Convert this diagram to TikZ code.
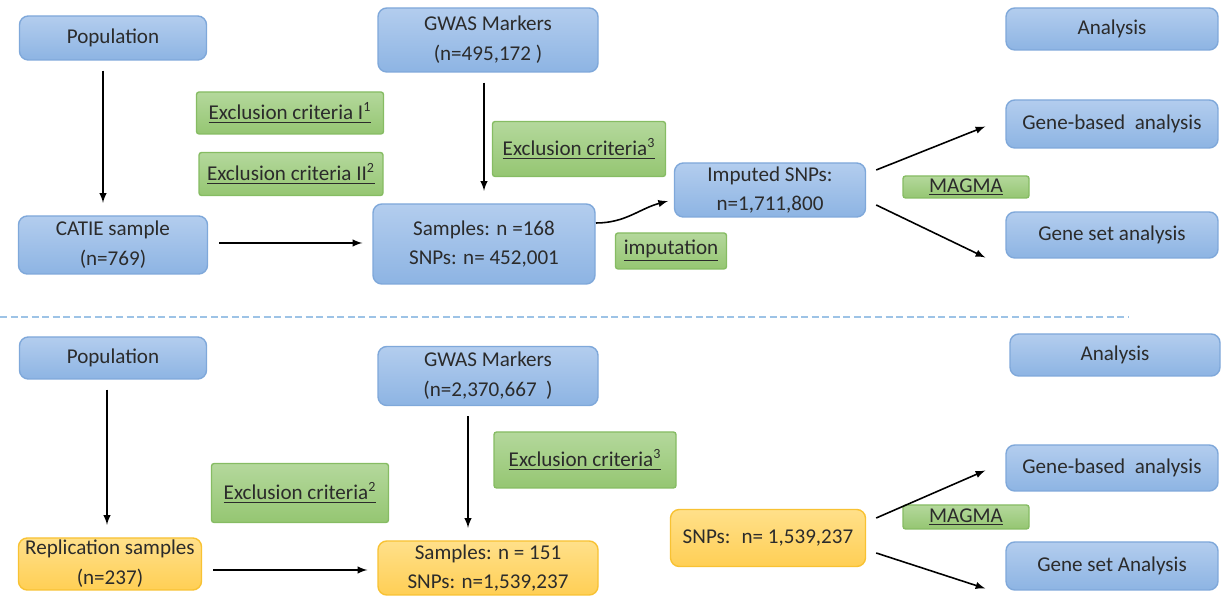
\documentclass[tikz,border=0pt]{standalone}
\usepackage{fontspec}
\setmainfont{Carlito}
\definecolor{textgray}{HTML}{2B2B2B}
\definecolor{bluetop}{HTML}{B3CDEE}
\definecolor{bluebot}{HTML}{8DB4E3}
\definecolor{blueline}{HTML}{7FA8DA}
\definecolor{greentop}{HTML}{B4D89C}
\definecolor{greenbot}{HTML}{95C672}
\definecolor{greenline}{HTML}{86BC63}
\definecolor{orangetop}{HTML}{FFE08A}
\definecolor{orangebot}{HTML}{FFCF55}
\definecolor{orangeline}{HTML}{F8C233}
\definecolor{dashblue}{HTML}{9DC3E6}
\begin{document}
\begin{tikzpicture}[x=0.02cm,y=-0.02cm,>=latex,
    every node/.style={font=\fontsize{12}{17}\selectfont,text=textgray,align=center,inner sep=0pt},
    sz/.style 2 args={minimum width=#1*0.02cm,minimum height=#2*0.02cm},
    bluebox/.style={draw=blueline,line width=0.8pt,rounded corners=5pt,top color=bluetop,bottom color=bluebot},
    greenbox/.style={draw=greenline,line width=0.8pt,rounded corners=1.5pt,top color=greentop,bottom color=greenbot},
    orangebox/.style={draw=orangeline,line width=0.8pt,rounded corners=5pt,top color=orangetop,bottom color=orangebot},
    arr/.style={->,line width=0.9pt,black}]
  \useasboundingbox (0,0) rectangle (1228,597);
  \node[bluebox,sz={187}{44}](P1) at (113,38) {Population};
  \node[bluebox,sz={220}{64}](G1) at (488,40) {GWAS Markers\\(n=495,172 )};
  \node[bluebox,sz={212}{42}](A1) at (1112,29) {Analysis};
  \node[greenbox,sz={187}{42}](E1) at (290,113) {\underline{Exclusion criteria I\textsuperscript{1}}};
  \node[greenbox,sz={184}{43}](E2) at (291,174) {\underline{Exclusion criteria II\textsuperscript{2}}};
  \node[greenbox,sz={173}{55}](E3) at (579,149) {\underline{Exclusion criteria\textsuperscript{3}}};
  \node[bluebox,sz={189}{58}](C1) at (113,245) {CATIE sample\\(n=769)};
  \node[bluebox,sz={222}{80}](S1) at (484,244) {Samples: n =168\\SNPs: n= 452,001};
  \node[greenbox,sz={111}{36}](I1) at (671,251) {\underline{imputation}};
  \node[bluebox,sz={191}{54}](M1) at (770,190) {Imputed SNPs:\\n=1,711,800};
  \node[greenbox,sz={126}{22}](MG1) at (966,187) {\underline{MAGMA}};
  \node[bluebox,sz={212}{48}](GB1) at (1112,124) {Gene-based~ analysis};
  \node[bluebox,sz={212}{46}](GS1) at (1112,235) {Gene set analysis};
  \coordinate(T1) at (596,223);
  \coordinate(T2) at (668,201);
  \coordinate(D1) at (0,317);
  \coordinate(D2) at (1128,317);
  \draw[dashblue,line width=1.6pt,dash pattern=on 4pt off 2pt](D1)--(D2);
  \node[bluebox,sz={187}{42}](P2) at (113,358) {Population};
  \node[bluebox,sz={220}{59}](G2) at (488,376) {GWAS Markers\\(n=2,370,667~ )};
  \node[bluebox,sz={210}{42}](A2) at (1115,355) {Analysis};
  \node[greenbox,sz={182}{56}](E4) at (585,460) {\underline{Exclusion criteria\textsuperscript{3}}};
  \node[greenbox,sz={177}{59}](E5) at (300,493) {\underline{Exclusion criteria\textsuperscript{2}}};
  \node[orangebox,sz={183}{52}](R2) at (110,564) {Replication samples\\(n=237)};
  \node[orangebox,sz={220}{54}](S2) at (488,568) {Samples: n = 151\\SNPs: n=1,539,237};
  \node[orangebox,sz={195}{57}](M2) at (768,538) {SNPs:~ n= 1,539,237};
  \node[greenbox,sz={126}{24}](MG2) at (966,517) {\underline{MAGMA}};
  \node[bluebox,sz={212}{46}](GB2) at (1112,468) {Gene-based~ analysis};
  \node[bluebox,sz={212}{48}](GS2) at (1112,566) {Gene set Analysis};
  \foreach \x/\y/\d in{P1/C1/-10,G1/S1/-4,P2/R2/-6,G2/S2/-20}{
    \draw[arr,shorten <=0.2cm,shorten >=0.25cm]([xshift=\d*0.02cm]\x.south)--([xshift=\d*0.02cm]\x.south |- \y.north);
  }
  \foreach \x/\y/\d in{C1/S1/-2,R2/S2/6}{
    \draw[arr,shorten <=0.22cm,shorten >=0.2cm]([yshift=-\d*0.02cm]\x.east)--([yshift=-\d*0.02cm]\x.east -| \y.west);
  }
  \foreach \x/\y/\z in{M1/GB1/GS1,M2/GB2/GS2}{
    \draw[arr]([xshift=0.2cm,yshift=0.4cm]\x.east)--([xshift=-0.4cm,yshift=-0.05cm]\y.west);
    \draw[arr]([xshift=0.2cm,yshift=-0.3cm]\x.east)--([xshift=-0.4cm,yshift=-0.45cm]\z.west);
  }
  \draw[arr](T1)to[out=0,in=195](T2);
\end{tikzpicture}
\end{document}
